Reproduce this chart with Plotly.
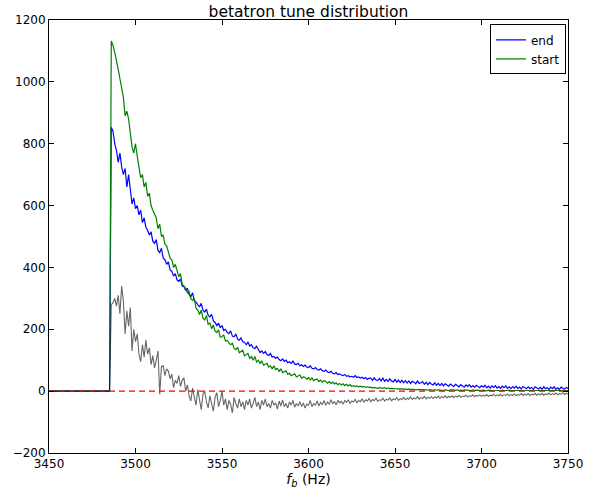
import plotly.graph_objects as go

# frequency axis (Hz): flat region start, then 1 Hz samples
freq_hz = [3450, 3485] + list(range(3486, 3751))

start_vals = [0, 0] + [
    1132, 1118, 1095, 1060, 1040, 1010, 985, 950, 890, 905,
    880, 840, 790, 770, 800, 760, 720, 690, 700, 660,
    675, 630, 640, 600, 585, 570, 560, 525, 540, 500,
    505, 475, 470, 450, 430, 425, 400, 410, 385, 370,
    380, 345, 340, 332, 318, 322, 298, 294, 300, 268,
    262, 248, 262, 236, 230, 244, 216, 220, 202, 214,
    193, 190, 198, 174, 176, 182, 162, 164, 156, 150,
    155, 138, 134, 142, 124, 128, 132, 114, 118, 122,
    106, 112, 100, 112, 94, 100, 90, 98, 84, 88,
    90, 78, 82, 72, 82, 70, 74, 64, 72, 60,
    63, 66, 54, 58, 50, 54, 56, 46, 50, 52,
    42, 46, 45, 38, 44, 36, 43, 34, 38, 39,
    31, 36, 29, 34, 32, 26, 31, 25, 29, 23,
    27, 21, 25, 20, 24, 18, 22, 17, 21, 15,
    18, 15, 17, 14, 16, 13, 15, 12, 14, 12,
    13, 10, 12, 11, 9, 11, 10, 9, 11, 8,
    10, 8, 9, 8, 9, 7, 8, 6, 8, 6,
    7, 5, 7, 5, 6, 5, 6, 4, 6, 4,
    5, 4, 5, 3, 5, 4, 3, 5, 3, 4,
    3, 4, 2, 4, 3, 2, 4, 3, 2, 3,
    4, 2, 3, 2, 4, 3, 2, 3, 2, 4,
    2, 3, 2, 3, 2, 3, 2, 1, 3, 2,
    3, 1, 2, 3, 2, 1, 3, 2, 1, 2,
    3, 1, 2, 2, 1, 3, 2, 1, 2, 1,
    3, 2, 1, 2, 1, 2, 3, 1, 2, 1,
    2, 1, 3, 2, 1, 2, 1, 2, 3, 1,
    2, 1, 2, 1, 2,
]

end_vals = [0, 0] + [
    853, 840, 800, 778, 740, 770, 725, 700, 720, 660,
    700, 640, 605, 625, 590, 600, 570, 585, 545, 560,
    530, 520, 505, 515, 485, 478, 490, 455, 448, 462,
    430, 425, 410, 418, 392, 388, 372, 380, 360, 355,
    362, 340, 338, 325, 333, 312, 305, 318, 292, 288,
    280, 272, 284, 262, 256, 265, 245, 240, 248, 228,
    222, 212, 220, 205, 212, 196, 200, 190, 186, 195,
    178, 176, 185, 168, 165, 172, 160, 158, 150, 158,
    146, 150, 140, 138, 145, 132, 125, 130, 122, 128,
    118, 115, 122, 110, 112, 106, 110, 102, 98, 104,
    96, 100, 92, 95, 90, 97, 88, 86, 90, 82,
    85, 80, 84, 78, 76, 82, 74, 72, 76, 70,
    68, 72, 66, 64, 68, 62, 60, 64, 58, 56,
    60, 54, 56, 52, 50, 54, 48, 50, 46, 48,
    45, 50, 44, 46, 42, 45, 40, 44, 38, 42,
    42, 35, 43, 36, 34, 41, 33, 42, 32, 38,
    31, 40, 33, 30, 38, 29, 36, 28, 35, 27,
    34, 26, 33, 25, 32, 29, 24, 33, 25, 27,
    30, 22, 29, 21, 28, 23, 20, 27, 19, 25,
    18, 25, 17, 24, 21, 16, 23, 18, 15, 22,
    17, 14, 21, 16, 13, 20, 15, 21, 13, 18,
    12, 19, 14, 11, 18, 13, 19, 11, 16, 10,
    17, 12, 18, 10, 15, 9, 16, 11, 17, 9,
    14, 8, 15, 10, 16, 8, 13, 7, 15, 10,
    8, 14, 8, 12, 6, 14, 9, 7, 12, 6,
    14, 8, 11, 6, 13, 8, 14, 6, 11, 5,
    13, 8, 6, 12, 9,
]

diff_vals = [0, 0] + [
    280, 285, 300, 275, 310, 250, 340, 290, 185, 260,
    210, 270, 130, 200, 160, 185, 120, 95, 150, 110,
    165, 120, 140, 86, 115, 75, 100, 130, -10, 80,
    82, 50, 72, 65, 40, 55, 11, 35, 25, 50,
    15, 35, 43, 0, 20, -15, -32, 10, -20, -45,
    5, -25, -60, -10, 0, -35, -54, -15, -40, -65,
    -20, -5, -50, -30, 0, -45, -25, -60, -30, -43,
    -70, -20, -40, -55, -25, -50, -35, -60, -30, -45,
    -25, -55, -40, -20, -50, -35, -60, -30, -45, -25,
    -50, -40, -55, -30, -45, -38, -58, -32, -48, -28,
    -50, -40, -55, -35, -45, -30, -52, -40, -48, -34,
    -50, -38, -55, -42, -46, -30, -50, -40, -45, -32,
    -48, -36, -44, -30, -46, -35, -42, -28, -40, -34,
    -44, -30, -38, -33, -42, -30, -36, -28, -40, -32,
    -35, -26, -38, -30, -34, -25, -36, -28, -32, -24,
    -34, -27, -31, -22, -33, -28, -30, -23, -32, -26,
    -29, -22, -31, -25, -28, -21, -30, -24, -27, -20,
    -28, -23, -26, -19, -27, -22, -25, -18, -26, -21,
    -24, -17, -25, -20, -23, -18, -24, -19, -22, -16,
    -23, -18, -21, -15, -22, -17, -20, -15, -21, -16,
    -19, -14, -20, -16, -18, -13, -19, -15, -17, -12,
    -18, -14, -16, -12, -17, -13, -16, -11, -17, -13,
    -15, -10, -16, -12, -15, -10, -16, -12, -14, -9,
    -15, -11, -14, -9, -15, -11, -13, -8, -14, -10,
    -13, -8, -14, -10, -12, -7, -13, -9, -12, -7,
    -13, -9, -11, -6, -12, -8, -11, -6, -12, -8,
    -10, -5, -11, -7, -9,
]

zero_x = [3450, 3750]
zero_y = [0, 0]

x_ticks = [3450, 3500, 3550, 3600, 3650, 3700, 3750]
y_ticks = [-200, 0, 200, 400, 600, 800, 1000, 1200]

fig = go.Figure()
fig.add_trace(go.Scatter(x=freq_hz, y=end_vals, mode="lines", name="end",
                         line=dict(color="#0000ff", width=1.2)))
fig.add_trace(go.Scatter(x=freq_hz, y=start_vals, mode="lines", name="start",
                         line=dict(color="#008000", width=1.2)))
fig.add_trace(go.Scatter(x=freq_hz, y=diff_vals, mode="lines", showlegend=False,
                         line=dict(color="rgba(0,0,0,0.6)", width=1.1)))
fig.add_trace(go.Scatter(x=zero_x, y=zero_y, mode="lines", showlegend=False,
                         line=dict(color="#ff0000", width=1.3, dash="6px,4px")))

axis_common = dict(showgrid=False, zeroline=False, showline=True, linecolor="black",
                   linewidth=1, mirror="allticks", ticks="inside", ticklen=5,
                   tickcolor="black", tickfont=dict(size=12, color="black"),
                   automargin=False)

fig.update_layout(
    width=594, height=492,
    margin=dict(l=49, r=26, t=20, b=39),
    paper_bgcolor="white", plot_bgcolor="white",
    font=dict(family="DejaVu Sans", color="black"),
    title=dict(text="betatron tune distribution", x=0.5, xref="paper",
               y=1 - 12 / 492, yanchor="middle", font=dict(size=15.5)),
    xaxis=dict(range=[3450, 3750], tickvals=x_ticks, ticktext=[str(v) for v in x_ticks],
               title=dict(text="<i>f</i><sub><i>b</i></sub> (Hz)", font=dict(size=14), standoff=3),
               **axis_common),
    yaxis=dict(range=[-200, 1200], tickvals=y_ticks, **axis_common),
    legend=dict(x=0.996, y=0.99, xanchor="right", yanchor="top",
                bordercolor="black", borderwidth=1, bgcolor="white",
                font=dict(size=12), itemwidth=30, tracegroupgap=0),
)

fig.write_html("out.html")
